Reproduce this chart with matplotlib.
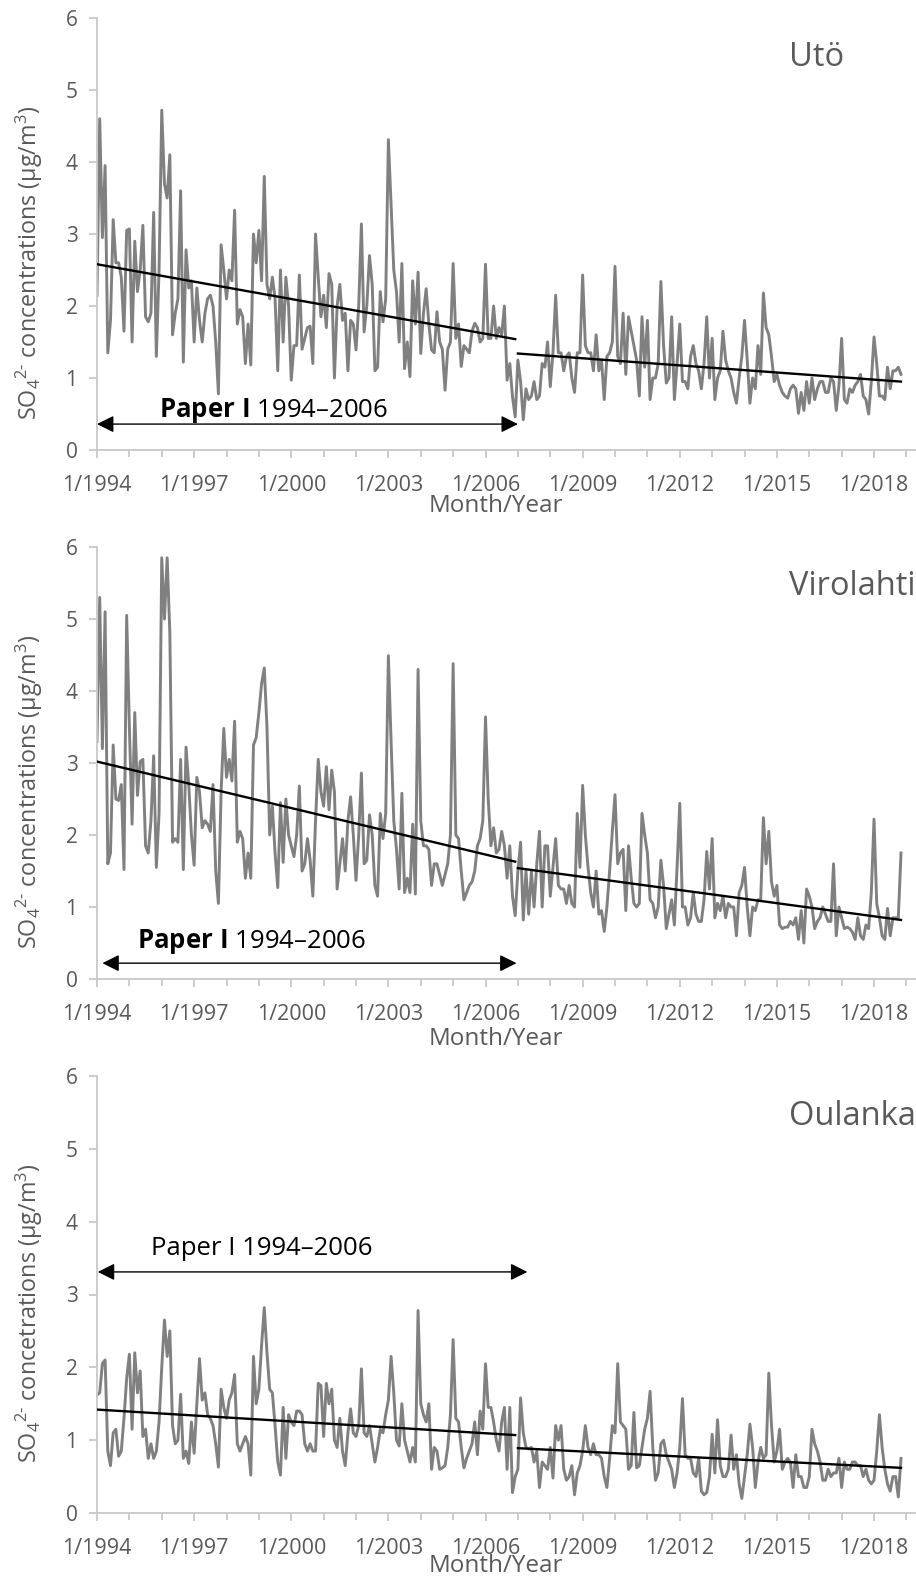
import matplotlib
matplotlib.use('Agg')
import matplotlib.pyplot as plt
import numpy as np

plt.rcParams['font.family'] = ['Open Sans', 'DejaVu Sans']
plt.rcParams['mathtext.fontset'] = 'custom'
plt.rcParams['mathtext.rm'] = 'Open Sans'
plt.rcParams['mathtext.it'] = 'Open Sans:italic'
plt.rcParams['mathtext.bf'] = 'Open Sans:bold'

# monthly SO4 concentrations, Jan 1994 - Nov 2018 (one row per year)
uto = [
    2.15, 4.6, 2.95, 3.95, 1.35, 1.8, 3.2, 2.6, 2.6, 2.4, 1.65, 3.05,
    3.07, 1.5, 2.9, 2.2, 2.5, 3.12, 1.85, 1.78, 1.9, 3.3, 1.3, 2.5,
    4.72, 3.7, 3.5, 4.1, 1.6, 1.9, 2.1, 3.6, 1.22, 2.78, 2.25, 2.35,
    1.5, 2.25, 1.8, 1.5, 1.9, 2.1, 2.15, 2.0, 1.5, 0.78, 2.85, 2.5,
    2.1, 2.5, 2.35, 3.33, 1.75, 1.95, 1.85, 1.2, 1.75, 1.18, 3.0, 2.6,
    3.05, 2.35, 3.8, 2.3, 2.1, 2.4, 2.1, 1.1, 2.5, 1.5, 2.4, 2.0,
    0.97, 1.45, 1.45, 2.43, 1.4, 1.55, 1.7, 1.72, 1.2, 3.0, 2.4, 1.85,
    2.15, 1.7, 2.45, 2.3, 1.0, 2.0, 2.3, 1.8, 1.9, 1.1, 1.8, 1.75,
    1.39, 2.0, 3.14, 1.64, 2.0, 2.7, 2.3, 1.1, 1.15, 2.2, 1.78, 2.1,
    4.31, 3.4, 2.5, 2.2, 1.5, 2.59, 1.13, 1.5, 1.02, 2.35, 1.75, 2.47,
    1.34, 1.9, 2.24, 1.75, 1.39, 1.35, 1.92, 1.5, 1.4, 0.83, 1.4, 1.5,
    2.59, 1.55, 1.75, 1.16, 1.45, 1.4, 1.35, 1.65, 1.76, 1.7, 1.5, 1.55,
    2.58, 1.55, 1.55, 2.0, 1.55, 1.7, 1.6, 2.0, 0.97, 1.2, 0.74, 0.46,
    1.25, 0.95, 0.42, 0.85, 0.7, 0.75, 0.95, 0.7, 0.75, 1.2, 1.15, 1.5,
    0.88, 1.35, 2.15, 1.35, 1.35, 1.1, 1.3, 1.35, 1.0, 0.8, 1.35, 1.35,
    2.43, 1.45, 1.35, 1.35, 1.1, 1.6, 1.1, 1.25, 0.7, 1.3, 1.35, 1.5,
    2.55, 1.3, 1.2, 1.9, 1.05, 1.85, 1.65, 1.45, 1.25, 0.75, 1.85, 1.15,
    1.8, 0.7, 1.0, 1.0, 1.2, 2.34, 1.45, 0.93, 1.0, 1.85, 0.7, 1.2,
    1.75, 0.95, 0.95, 0.85, 1.3, 1.45, 1.2, 1.1, 0.85, 1.2, 1.85, 1.0,
    1.55, 0.7, 1.0, 1.1, 1.65, 1.25, 1.1, 1.0, 0.8, 0.65, 1.0, 1.3,
    1.8, 1.25, 0.65, 1.0, 0.85, 1.45, 1.05, 2.18, 1.7, 1.6, 1.3, 0.95,
    1.05, 0.9, 0.8, 0.75, 0.72, 0.85, 0.9, 0.85, 0.51, 0.8, 0.55, 0.95,
    0.65, 1.0, 0.7, 0.85, 0.95, 0.95, 0.8, 0.8, 1.0, 0.95, 0.55, 0.9,
    1.55, 0.7, 0.65, 0.85, 0.8, 0.9, 0.95, 1.05, 0.75, 0.7, 0.5, 0.95,
    1.57, 1.2, 0.75, 0.75, 0.7, 1.15, 0.85, 1.1, 1.1, 1.15, 1.05,
]

virolahti = [
    3.3, 5.3, 3.2, 5.1, 1.6, 1.75, 3.25, 2.5, 2.48, 2.7, 1.52, 5.05,
    3.5, 2.15, 3.7, 2.55, 3.02, 3.05, 1.85, 1.75, 2.2, 3.1, 1.55, 2.3,
    5.85, 5.0, 5.85, 4.8, 1.9, 1.95, 1.9, 3.05, 1.52, 3.22, 2.7, 2.0,
    1.58, 2.8, 2.6, 2.1, 2.2, 2.15, 2.05, 2.7, 1.5, 1.05, 2.6, 3.48,
    2.8, 3.05, 2.75, 3.58, 1.9, 2.05, 1.95, 1.4, 1.75, 1.4, 3.25, 3.35,
    3.7, 4.1, 4.32, 3.5, 2.0, 2.4, 1.75, 1.27, 2.45, 1.62, 2.5, 2.0,
    1.85, 1.7, 2.0, 2.68, 1.5, 1.6, 1.95, 1.65, 1.15, 2.2, 3.05, 2.6,
    2.4, 2.95, 2.35, 2.9, 2.6, 1.25, 1.6, 1.95, 1.5, 2.2, 2.53, 2.0,
    1.37, 2.0, 2.86, 1.6, 1.65, 2.28, 2.0, 1.3, 1.15, 2.3, 1.95, 2.3,
    4.49, 3.3, 2.2, 1.8, 1.25, 2.58, 1.2, 1.4, 1.2, 2.15, 1.18, 4.3,
    2.2, 1.85, 1.85, 1.8, 1.3, 1.6, 1.6, 1.45, 1.3, 1.45, 1.6, 2.0,
    4.38, 2.0, 1.95, 1.5, 1.1, 1.2, 1.3, 1.35, 1.5, 1.85, 1.95, 2.2,
    3.64, 2.5, 1.85, 2.1, 1.75, 1.8, 2.05, 1.85, 1.4, 1.85, 1.15, 0.88,
    1.5, 1.9, 0.82, 1.5, 0.9, 1.5, 1.0, 1.6, 2.05, 1.0, 1.85, 1.85,
    1.15, 1.55, 1.95, 1.3, 1.25, 1.25, 1.05, 1.3, 1.05, 1.0, 2.3, 1.55,
    2.69, 2.0, 1.55, 1.2, 1.0, 1.5, 0.9, 0.95, 0.66, 1.0, 1.5, 2.05,
    2.56, 1.6, 1.75, 1.8, 0.95, 1.85, 1.4, 1.05, 1.0, 1.05, 2.3, 2.0,
    1.75, 1.1, 1.05, 0.85, 1.0, 1.65, 1.3, 0.7, 0.9, 1.1, 0.75, 1.55,
    2.44, 1.0, 1.0, 0.75, 0.85, 1.2, 0.9, 0.8, 0.8, 1.1, 1.77, 1.25,
    1.95, 0.85, 1.05, 0.95, 1.15, 0.85, 1.05, 1.0, 1.0, 0.6, 1.2, 1.3,
    1.55, 1.0, 0.6, 1.0, 0.95, 1.1, 1.1, 2.24, 1.6, 2.05, 1.35, 1.15,
    1.3, 0.75, 0.7, 0.72, 0.72, 0.8, 0.75, 0.85, 0.55, 0.95, 0.5, 1.25,
    1.15, 1.0, 0.7, 0.8, 0.85, 1.0, 0.9, 0.8, 0.8, 1.6, 0.6, 1.0,
    0.85, 0.7, 0.72, 0.7, 0.65, 0.55, 0.85, 0.6, 0.55, 0.75, 0.7, 1.2,
    2.22, 1.05, 0.85, 0.6, 0.55, 0.98, 0.6, 0.85, 0.85, 0.85, 1.75,
]

oulanka = [
    1.62, 1.65, 2.05, 2.1, 0.85, 0.65, 1.1, 1.15, 0.78, 0.85, 1.3, 1.85,
    2.18, 1.15, 2.2, 1.65, 1.95, 1.05, 1.15, 0.75, 0.95, 0.75, 0.85, 1.25,
    2.0, 2.65, 2.15, 2.5, 1.2, 0.95, 1.0, 1.63, 0.75, 0.85, 0.68, 1.25,
    0.82, 1.5, 2.12, 1.55, 1.65, 1.35, 1.3, 1.2, 0.95, 0.63, 1.7, 1.45,
    1.3, 1.55, 1.65, 1.9, 0.95, 0.85, 0.95, 1.05, 0.95, 0.52, 2.15, 1.5,
    1.7, 2.3, 2.82, 2.2, 1.7, 1.65, 1.2, 0.7, 0.52, 1.45, 0.75, 1.35,
    1.25, 1.2, 1.4, 1.4, 1.35, 0.95, 0.85, 0.95, 0.85, 0.85, 1.78, 1.75,
    1.05, 1.78, 1.5, 1.7, 1.0, 0.9, 1.3, 0.85, 0.65, 1.1, 1.43, 1.1,
    1.05, 1.2, 1.98, 1.1, 1.05, 1.2, 0.95, 0.7, 0.9, 1.15, 1.1, 1.35,
    1.55, 2.15, 1.65, 1.0, 0.92, 1.5, 1.0, 0.85, 0.7, 0.9, 0.7, 2.78,
    1.5, 1.35, 1.25, 1.5, 0.6, 0.9, 0.85, 0.6, 0.62, 0.65, 0.9, 1.35,
    2.38, 1.3, 1.25, 0.9, 0.62, 0.75, 0.85, 0.95, 1.25, 0.8, 1.4, 1.15,
    2.05, 1.45, 1.45, 1.25, 1.0, 0.85, 1.25, 1.45, 0.6, 1.45, 0.28, 0.5,
    0.6, 1.58, 1.1, 0.9, 0.88, 0.9, 0.7, 0.85, 0.35, 0.7, 0.65, 0.6,
    0.9, 0.48, 1.2, 1.0, 1.2, 0.6, 0.45, 0.5, 0.65, 0.25, 0.55, 0.65,
    0.85, 1.2, 0.9, 0.8, 0.95, 0.8, 0.8, 0.75, 0.5, 0.35, 0.75, 1.2,
    1.1, 2.05, 1.25, 1.2, 1.15, 0.6, 0.65, 1.38, 0.62, 0.65, 0.9, 1.15,
    1.3, 1.67, 0.9, 0.45, 0.55, 0.95, 1.0, 0.8, 0.7, 0.6, 0.35, 0.55,
    0.9, 1.57, 0.8, 0.75, 0.75, 0.55, 0.5, 0.75, 0.3, 0.25, 0.28, 0.5,
    1.08, 0.55, 1.28, 0.65, 0.5, 0.5, 0.6, 1.07, 0.6, 0.8, 0.4, 0.2,
    0.5, 0.8, 1.22, 0.9, 0.35, 0.7, 0.9, 0.75, 0.8, 1.92, 1.2, 0.7,
    0.85, 1.15, 0.6, 0.7, 0.75, 0.7, 0.35, 0.8, 0.5, 0.5, 0.35, 0.35,
    0.5, 1.15, 0.95, 0.85, 0.7, 0.45, 0.45, 0.6, 0.5, 0.55, 0.55, 0.75,
    0.35, 0.7, 0.6, 0.6, 0.7, 0.7, 0.65, 0.65, 0.5, 0.6, 0.45, 0.4,
    0.45, 0.85, 1.35, 0.9, 0.6, 0.4, 0.3, 0.5, 0.5, 0.22, 0.75,
]

# linear trend end values: (start, end) for 1994-2006 and 2007-2018
uto_trend = [(2.58, 1.54), (1.34, 0.95)]
virolahti_trend = [(3.02, 1.63), (1.54, 0.82)]
oulanka_trend = [(1.42, 1.07), (0.89, 0.62)]

stations = ['Utö', 'Virolahti', 'Oulanka']
ylabels = [r'SO$_4$$^{2\text{-}}$ concentrations (µg/m$^3$)',
           r'SO$_4$$^{2\text{-}}$ concentrations (µg/m$^3$)',
           r'SO$_4$$^{2\text{-}}$ concetrations (µg/m$^3$)']
ylabel_center = [0.433, 0.433, 0.458]
xlabel_offset = [-0.103, -0.11, -0.093]

first_year = 1994
split_month = 156  # 1/2007
tick_years = list(range(1994, 2019, 3))
tick_labels = ['1/%d' % y for y in tick_years]

paper_text = [r'$\mathbf{Paper\ I}$ 1994–2006', r'$\mathbf{Paper\ I}$ 1994–2006', 'Paper I 1994–2006']
paper_text_pos = [(23, 0.46), (15, 0.43), (20, 3.54)]
arrow_span = [(0, 156, 0.36), (2, 155.5, 0.22), (0.3, 159.5, 3.31)]

W, H = 916, 1578
fig = plt.figure(figsize=(W / 100, H / 100), dpi=100)

# axes boxes in pixels: left, y of value 0, y of value 6
boxes = [(97, 450, 18), (97, 979, 547), (97, 1513, 1076)]

grey = '#595959'
axis_grey = '#C8C8C8'

series = [uto, virolahti, oulanka]
trends = [uto_trend, virolahti_trend, oulanka_trend]

for i in range(3):
    left, y0, y6 = boxes[i]
    ax = fig.add_axes([left / W, 1 - y0 / H, (W - left) / W, (y0 - y6) / H])
    vals = np.array(series[i])
    x = np.arange(len(vals))
    ax.plot(x, vals, color='#808080', lw=2.1, solid_joinstyle='round', zorder=2)

    (a0, a1), (b0, b1) = trends[i]
    ax.plot([0, split_month - 1], [a0, a1], color='black', lw=1.7, zorder=3)
    ax.plot([split_month, len(vals) - 1], [b0, b1], color='black', lw=1.7, zorder=3)

    ax.set_xlim(0, (W - left) / 2.698)
    ax.set_ylim(0, 6)

    ax.set_xticks([(y - first_year) * 12 for y in tick_years])
    ax.set_xticklabels(tick_labels)
    ax.set_xticks(np.arange(0, 301, 12), minor=True)
    ax.set_yticks(range(0, 7))

    for s in ['top', 'right']:
        ax.spines[s].set_visible(False)
    for s in ['left', 'bottom']:
        ax.spines[s].set_color(axis_grey)
        ax.spines[s].set_linewidth(1.3)
    ax.tick_params(axis='x', which='major', length=6, width=1.3, color=axis_grey,
                   labelsize=15.5, labelcolor=grey, pad=12)
    ax.tick_params(axis='x', which='minor', length=5, width=1.3, color=axis_grey)
    ax.tick_params(axis='y', length=6, width=1.3, color=axis_grey,
                   labelsize=15, labelcolor=grey, pad=8)

    ax.set_xlabel('Month/Year', fontsize=17.5, color=grey)
    ax.xaxis.set_label_coords(0.487, xlabel_offset[i])
    ax.set_ylabel(ylabels[i], fontsize=16.8, color=grey)
    ax.yaxis.set_label_coords(-0.064, ylabel_center[i])

    ax.text(256.5, 5.45, stations[i], fontsize=23.5, color=grey, va='center', ha='left')

    xa, xb, ya = arrow_span[i]
    ax.annotate('', xy=(xb, ya), xytext=(xa, ya),
                arrowprops=dict(arrowstyle='<|-|>,head_length=0.6,head_width=0.3',
                                color='black', lw=1, mutation_scale=17,
                                shrinkA=0, shrinkB=0))
    tx, ty = paper_text_pos[i]
    ax.text(tx, ty, paper_text[i], fontsize=18.5, color='black', va='baseline', ha='left')

fig.savefig('out.png', dpi=100)
